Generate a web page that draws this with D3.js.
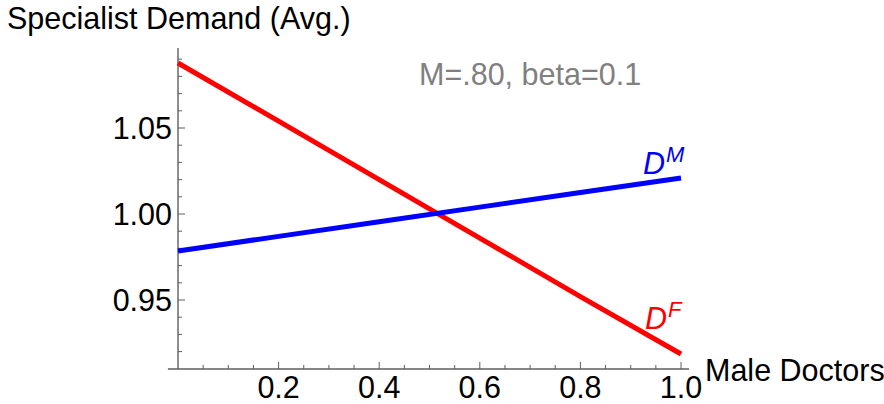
<!DOCTYPE html>
<html>
<head>
<meta charset="utf-8">
<script src="https://cdn.jsdelivr.net/npm/d3@7"></script>
<style>
  body { margin: 0; background: #fff; }
  svg text { font-family: "Liberation Sans", Arial, sans-serif; }
</style>
</head>
<body>
<script>
// data
var maleShare = [0, 0.2, 0.4, 0.6, 0.8, 1.0];
var demandMale = [0.9785, 0.987, 0.9955, 1.004, 1.0125, 1.0209];
var demandFemale = [1.0878, 1.054, 1.020, 0.986, 0.952, 0.9186];
var xTickVals = [0.2, 0.4, 0.6, 0.8, 1.0];
var yTickVals = [0.95, 1.00, 1.05];
var note = "M=.80, beta=0.1";

var width = 884, height = 404;

var svg = d3.select("body").append("svg")
    .attr("width", width)
    .attr("height", height);

var x = d3.scaleLinear().domain([0, 1]).range([178, 681]);
var y = d3.scaleLinear().domain([0.95, 1.05]).range([300, 128]);

var axisColor = "#5e5e5e";
var fontSize = 30.5;

// y axis line
svg.append("line")
    .attr("x1", x(0)).attr("x2", x(0))
    .attr("y1", y(1.0965)).attr("y2", y(0.9099))
    .attr("stroke", axisColor).attr("stroke-width", 1.4);

// x axis line
svg.append("line")
    .attr("x1", x(-0.02)).attr("x2", x(1.016))
    .attr("y1", y(0.9099)).attr("y2", y(0.9099))
    .attr("stroke", axisColor).attr("stroke-width", 1.4);

// y ticks (major + minor)
var yMinor = d3.range(92, 110).map(function(d) { return d / 100; });
svg.selectAll("line.ytick")
    .data(yMinor)
  .enter().append("line")
    .attr("class", "ytick")
    .attr("x1", x(0))
    .attr("x2", function(d) { return x(0) + (d % 0.05 < 0.001 || d % 0.05 > 0.049 ? 7 : 4); })
    .attr("y1", function(d) { return y(d); })
    .attr("y2", function(d) { return y(d); })
    .attr("stroke", axisColor).attr("stroke-width", 1);

svg.selectAll("text.ylab")
    .data(yTickVals)
  .enter().append("text")
    .attr("class", "ylab")
    .attr("x", x(0) - 6)
    .attr("y", function(d) { return y(d); })
    .attr("dy", "0.36em")
    .attr("text-anchor", "end")
    .attr("font-size", fontSize)
    .attr("fill", "#000")
    .text(function(d) { return d3.format(".2f")(d); });

// x ticks (major + minor)
var xMinor = d3.range(1, 21).map(function(d) { return d * 0.05; });
svg.selectAll("line.xtick")
    .data(xMinor)
  .enter().append("line")
    .attr("class", "xtick")
    .attr("x1", function(d) { return x(d); })
    .attr("x2", function(d) { return x(d); })
    .attr("y1", y(0.9099))
    .attr("y2", function(d, i) { return y(0.9099) - ((i + 1) % 4 === 0 ? 7 : 4); })
    .attr("stroke", axisColor).attr("stroke-width", 1);

svg.selectAll("text.xlab")
    .data(xTickVals)
  .enter().append("text")
    .attr("class", "xlab")
    .attr("x", function(d) { return x(d); })
    .attr("y", 398)
    .attr("text-anchor", "middle")
    .attr("font-size", fontSize)
    .attr("fill", "#000")
    .text(function(d) { return d3.format(".1f")(d); });

// axis labels
svg.append("text")
    .attr("x", 7).attr("y", 29)
    .attr("font-size", fontSize)
    .text("Specialist Demand (Avg.)");

svg.append("text")
    .attr("x", 705).attr("y", 381)
    .attr("font-size", fontSize)
    .text("Male Doctors");

svg.append("text")
    .attr("x", 419).attr("y", 85)
    .attr("font-size", fontSize)
    .attr("fill", "#808080")
    .text(note);

// lines
var line = d3.line()
    .x(function(d) { return x(d[0]); })
    .y(function(d) { return y(d[1]); });

svg.append("path")
    .datum(d3.zip(maleShare, demandFemale))
    .attr("d", line)
    .attr("fill", "none")
    .attr("stroke", "#ff0000")
    .attr("stroke-width", 5);

svg.append("path")
    .datum(d3.zip(maleShare, demandMale))
    .attr("d", line)
    .attr("fill", "none")
    .attr("stroke", "#0000ff")
    .attr("stroke-width", 5);

// line labels
function curveLabel(xPos, yPos, sup, color) {
  var t = svg.append("text")
      .attr("x", xPos).attr("y", yPos)
      .attr("fill", color)
      .attr("font-size", fontSize)
      .attr("font-style", "italic");
  t.append("tspan").text("D");
  t.append("tspan")
      .attr("font-size", 22)
      .attr("dy", -12)
      .attr("dx", 1)
      .text(sup);
}
curveLabel(643, 174, "M", "#0000ff");
curveLabel(645, 329, "F", "#ff0000");
</script>
</body>
</html>
